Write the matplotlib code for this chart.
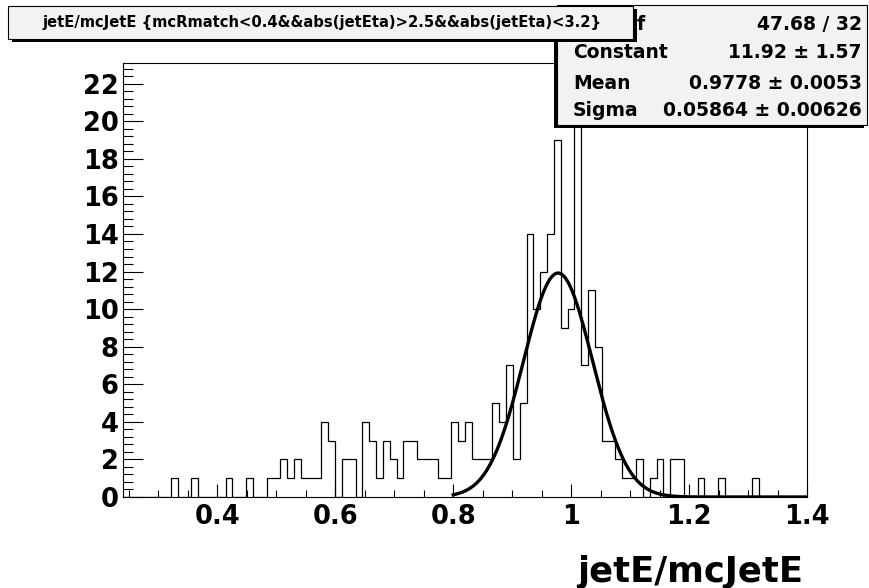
import numpy as np
import matplotlib
matplotlib.use("Agg")
import matplotlib.pyplot as plt
from matplotlib.patches import Rectangle
from matplotlib.ticker import MultipleLocator, FuncFormatter

# histogram jetE/mcJetE, 100 bins from 0.24 to 1.4
x_lo, x_hi, n_bins = 0.24, 1.4, 100
counts = [0, 0, 0, 0, 0, 0, 0, 1, 0, 0,
          1, 0, 0, 0, 0, 1, 0, 0, 1, 0,
          0, 1, 1, 2, 1, 2, 1, 1, 1, 4,
          3, 0, 2, 2, 0, 4, 3, 1, 3, 2,
          1, 3, 3, 2, 2, 2, 1, 1, 4, 3,
          4, 2, 2, 2, 5, 4, 7, 2, 5, 14,
          10, 12, 14, 19, 9, 10, 22, 7, 11, 8,
          3, 3, 2, 1, 1, 2, 0, 1, 2, 0,
          2, 2, 0, 0, 1, 0, 0, 1, 0, 0,
          0, 0, 1, 0, 0, 0, 0, 0, 0, 0]

# gaussian fit result (from stats box)
fit_const, fit_mean, fit_sigma = 11.92, 0.9778, 0.05864
fit_range = (0.8, 1.4)

title = "jetE/mcJetE {mcRmatch<0.4&&abs(jetEta)>2.5&&abs(jetEta)<3.2}"
stat_labels = ["χ² / ndf", "Constant", "Mean", "Sigma"]
stat_values = ["47.68 / 32", "11.92 ± 1.57", "0.9778 ± 0.0053", "0.05864 ± 0.00626"]

plt.rcParams['font.family'] = ['DejaVu Sans']
plt.rcParams['font.weight'] = 'bold'

W, H = 870, 588
fig = plt.figure(figsize=(W / 100, H / 100), dpi=100)

def fx(px):
    return px / W

def fy(py):
    return 1 - py / H

ax = fig.add_axes([fx(123), fy(497), (807 - 123) / W, (497 - 63) / H])
edges = np.linspace(x_lo, x_hi, n_bins + 1)
ax.stairs(counts, edges, color='black', lw=0.9, baseline=0)

xf = np.linspace(fit_range[0], fit_range[1], 400)
yf = fit_const * np.exp(-0.5 * ((xf - fit_mean) / fit_sigma) ** 2)
ax.plot(xf, yf, color='black', lw=2.4)

ax.set_xlim(x_lo, x_hi)
ax.set_ylim(0, max(counts) * 1.05)
ax.xaxis.set_major_locator(MultipleLocator(0.2))
ax.xaxis.set_minor_locator(MultipleLocator(0.05))
ax.yaxis.set_major_locator(MultipleLocator(2))
ax.yaxis.set_minor_locator(MultipleLocator(0.4))
ax.xaxis.set_major_formatter(FuncFormatter(lambda v, p: "%g" % round(v, 3)))
ax.tick_params(which='both', direction='in', top=False, right=False, width=0.8)
ax.tick_params(axis='x', which='major', length=9.4, pad=5, labelsize=18.5)
ax.tick_params(axis='x', which='minor', length=4.7)
ax.tick_params(axis='y', which='major', length=14.7, pad=3, labelsize=18.5)
ax.tick_params(axis='y', which='minor', length=7.3)
for s in ax.spines.values():
    s.set_linewidth(0.8)

fig.text(fx(803), fy(582), "jetE/mcJetE", ha='right', va='baseline', fontsize=25.5, weight='bold')

# stats box (shadow on left/bottom)
sx0, sx1, sy0, sy1 = 557, 867, 5, 125
fig.patches.append(Rectangle((fx(sx0 - 3), fy(sy1 + 3)), (sx1 - sx0) / W, (sy1 - sy0) / H,
                             transform=fig.transFigure, facecolor='black', edgecolor='none', zorder=5))
fig.patches.append(Rectangle((fx(sx0), fy(sy1)), (sx1 - sx0) / W, (sy1 - sy0) / H,
                             transform=fig.transFigure, facecolor='#f2f2f2', edgecolor='black', lw=0.8, zorder=6))
row_y = [24, 53, 84, 110]
for i, (lab, val, ry) in enumerate(zip(stat_labels, stat_values, row_y)):
    if i == 0:
        # first label sits mostly under the title box, only its tail shows
        fig.text(fx(645), fy(ry), lab, ha='right', va='center', fontsize=13.5, weight='bold', zorder=7)
    else:
        fig.text(fx(573), fy(ry), lab, ha='left', va='center', fontsize=13.5, weight='bold', zorder=7)
    fig.text(fx(862), fy(ry), val, ha='right', va='center', fontsize=13.5, weight='bold', zorder=7)

# title box (shadow on right/bottom)
tx0, tx1, ty0, ty1 = 8, 633, 6, 39
fig.patches.append(Rectangle((fx(tx0 + 4), fy(ty1 + 3)), (tx1 - tx0) / W, (ty1 - ty0) / H,
                             transform=fig.transFigure, facecolor='black', edgecolor='none', zorder=8))
fig.patches.append(Rectangle((fx(tx0), fy(ty1)), (tx1 - tx0) / W, (ty1 - ty0) / H,
                             transform=fig.transFigure, facecolor='#f2f2f2', edgecolor='black', lw=0.8, zorder=9))
fig.text(fx(322), fy(22.5), title, ha='center', va='center', fontsize=10.6, weight='bold', zorder=10)

fig.savefig("out.png", dpi=100)
